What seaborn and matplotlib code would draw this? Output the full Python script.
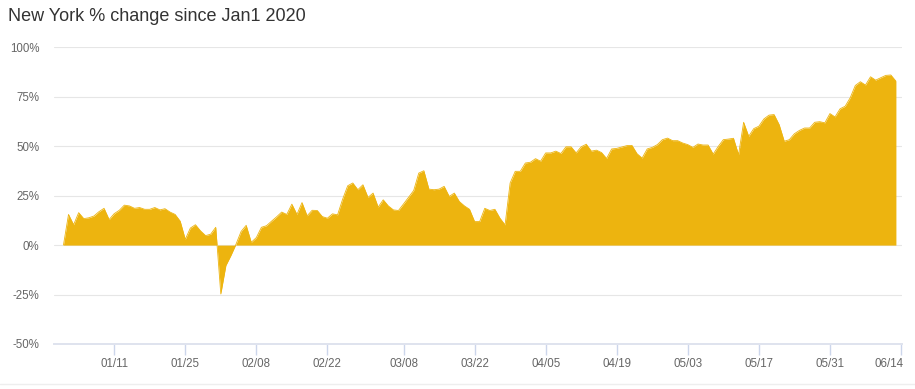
import numpy as np
import pandas as pd
import matplotlib
matplotlib.use("Agg")
import matplotlib.pyplot as plt
import matplotlib.dates as mdates
import matplotlib.transforms as mtransforms
from matplotlib.lines import Line2D
import seaborn as sns

# ---- data (% change since Jan 1 2020, daily) ----
jan = [0, 15.5, 10.3, 16.4, 13.4, 13.8, 14.7, 16.9, 18.6, 12.9, 15.9, 17.6, 20.2, 19.8, 18.6,
       19.0, 18.1, 18.1, 19.0, 17.8, 18.4, 16.7, 15.5, 12.1, 2.9, 8.6, 10.3, 7.2, 4.8, 5.5, 9.0]
feb = [-24.7, -10.3, -5.2, 0.5, 6.9, 10.0, 1.4, 3.8, 9.0, 9.8, 12.1, 14.3, 16.7, 15.5, 20.7,
       15.5, 21.5, 14.8, 17.6, 17.5, 14.4, 13.6, 15.8, 15.3, 23.2, 30.0, 31.4, 28.0, 30.5]
mar = [24.1, 26.3, 19.2, 22.9, 19.8, 17.8, 17.5, 20.8, 24.2, 27.6, 36.4, 37.6, 28.3, 28.0, 28.3,
       29.7, 24.6, 26.3, 22.0, 19.8, 18.1, 11.9, 11.9, 18.6, 17.5, 18.1, 13.6, 10.2, 31.4, 37.3, 37.3]
apr = [41.5, 41.9, 43.7, 42.4, 46.6, 46.6, 47.5, 46.3, 49.7, 49.7, 46.6, 49.7, 51.0, 47.5, 48.0,
       46.8, 43.8, 48.6, 48.9, 49.6, 50.3, 50.4, 46.2, 44.0, 48.6, 49.4, 50.8, 53.3, 54.1, 52.8]
may = [52.8, 51.6, 50.8, 49.4, 51.1, 50.6, 50.6, 46.0, 49.9, 53.3, 53.6, 54.0, 45.7, 62.1, 55.0,
       58.9, 60.1, 63.8, 65.7, 66.0, 60.9, 52.5, 53.3, 56.3, 58.0, 59.2, 59.2, 62.1, 62.4, 61.8, 66.5]
jun = [64.8, 68.9, 70.2, 74.5, 80.7, 82.6, 80.9, 85.1, 83.4, 84.6, 85.8, 86.0, 82.9]

start_date = "2020-01-01"
x_tick_dates = ["2020-01-11", "2020-01-25", "2020-02-08", "2020-02-22", "2020-03-08",
                "2020-03-22", "2020-04-05", "2020-04-19", "2020-05-03", "2020-05-17",
                "2020-05-31", "2020-06-14"]
y_ticks = [-50, -25, 0, 25, 50, 75, 100]
title = "New York % change since Jan1 2020"

values = jan + feb + mar + apr + may + jun
dates = pd.date_range(start_date, periods=len(values), freq="D")
df = pd.DataFrame({"date": dates, "pct": values})

# ---- style ----
sns.set_theme(style="white")
plt.rcParams["font.family"] = ["Liberation Sans", "DejaVu Sans"]

FILL = "#edb40f"
fig = plt.figure(figsize=(9.15, 3.89), dpi=100)
ax = fig.add_axes([54 / 915, 1 - 344 / 389, (902 - 54) / 915, (344 - 47.3) / 389])

for v in y_ticks[1:]:
    ax.axhline(v, color="#e6e6e6", lw=0.8, zorder=0)

sns.lineplot(data=df, x="date", y="pct", ax=ax, color=FILL, lw=0.6, zorder=3)
ax.fill_between(df["date"], df["pct"], 0, color=FILL, lw=0, zorder=2)

x0 = pd.Timestamp(start_date)
ax.set_xlim(x0 - pd.Timedelta(days=1.86), x0 + pd.Timedelta(days=165.2))
ax.set_ylim(-50, 100)

ax.set_yticks(y_ticks)
ax.set_yticklabels([f"{v}%" for v in y_ticks])
ax.set_xticks(pd.to_datetime(x_tick_dates))
ax.xaxis.set_major_formatter(mdates.DateFormatter("%m/%d"))

ax.tick_params(axis="x", direction="out", length=8, width=1, color="#ccd6eb",
               labelcolor="#666666", labelsize=8.3, pad=2, bottom=True)
ax.tick_params(axis="y", length=0, labelcolor="#666666", labelsize=8.3, pad=10.5)

# keep the last date label inside the plot like the reference
fig.canvas.draw()
last = ax.get_xticklabels()[-1]
last.set_horizontalalignment("right")
last.set_transform(last.get_transform() +
                   mtransforms.ScaledTranslation(2.5 / 100, 0, fig.dpi_scale_trans))

ax.set_xlabel("")
ax.set_ylabel("")
for s in ["top", "right", "left"]:
    ax.spines[s].set_visible(False)
ax.spines["bottom"].set_color("#dfe3ee")
ax.spines["bottom"].set_linewidth(1.4)

fig.text(8 / 915, 1 - 20.7 / 389, title, fontsize=13, color="#333333",
         ha="left", va="baseline")
fig.add_artist(Line2D([0, 1], [1 - 383.5 / 389] * 2, color="#eeeeee", lw=1))

fig.savefig("out.png", dpi=100)
